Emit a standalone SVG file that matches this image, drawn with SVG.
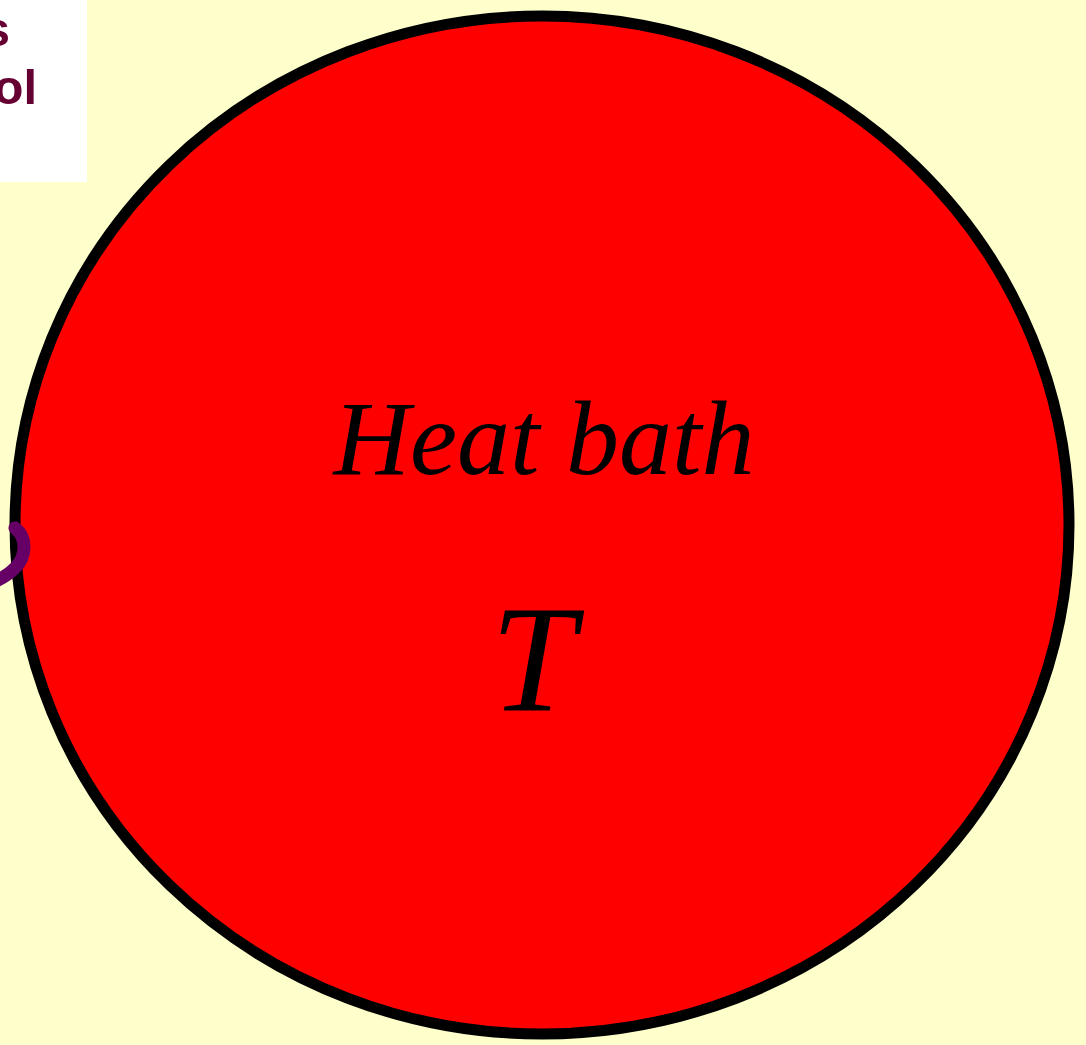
<svg xmlns="http://www.w3.org/2000/svg" width="1086" height="1045" viewBox="0 0 1086 1045">
<style>
.lbl{font-family:"Liberation Sans",Arial,sans-serif;font-weight:bold;fill:#660033;font-size:49px}
.it{font-family:"Liberation Serif","Times New Roman",serif;font-style:italic;fill:#000}
</style>
<rect x="0" y="0" width="1086" height="1045" fill="#ffffcc"/>
<g id="caption">
<rect x="0" y="0" width="87" height="182" fill="#ffffff"/>
<text class="lbl" x="10" y="46" text-anchor="end">s</text>
<text class="lbl" x="37" y="104" text-anchor="end">ol</text>
</g>
<g id="heat-bath">
<ellipse cx="542" cy="525" rx="527" ry="509" fill="#ff0000" stroke="#000" stroke-width="11"/>
<text class="it" x="544" y="474" font-size="106" text-anchor="middle">Heat bath</text>
<text class="it" x="533" y="711" font-size="152" text-anchor="middle">T</text>
</g>
<g id="connectors">
<path d="M 15,528 C 27,537 27,556 15,568 C 9,574 3,578 -6,582" fill="none" stroke="#660066" stroke-width="13" stroke-linecap="round"/>
</g>
</svg>
